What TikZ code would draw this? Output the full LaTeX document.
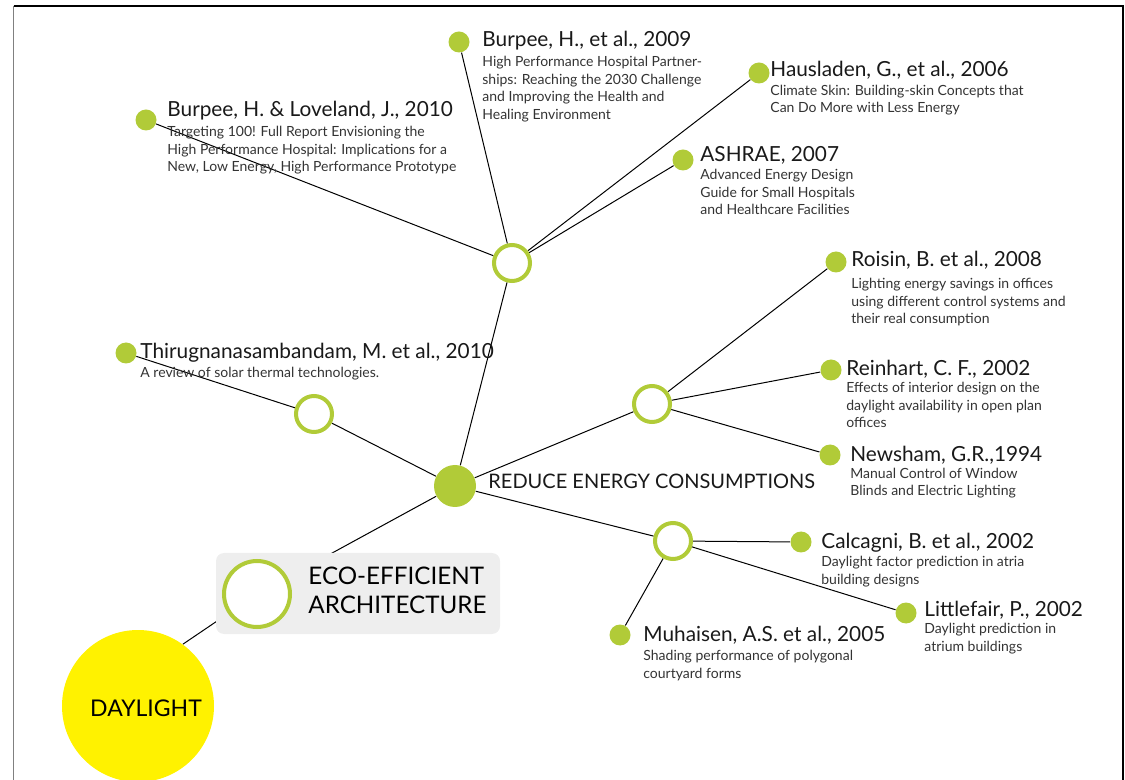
\documentclass[tikz,border=0pt]{standalone}
\usepackage{fontspec}
\setmainfont{Lato}
\usetikzlibrary{positioning,backgrounds}
\definecolor{leafgreen}{RGB}{177,203,56}
\definecolor{sunyellow}{RGB}{255,242,0}
\definecolor{panelgray}{RGB}{238,238,238}
\definecolor{subgray}{RGB}{51,51,51}

% sub texts are placed at the baseline of their last line
\tikzset{
  hub/.style={circle, draw=leafgreen, line width=2pt, fill=white, minimum size=18pt, inner sep=0pt},
  leaf/.style={circle, fill=leafgreen, minimum size=10.5pt, inner sep=0pt},
  ttl/.style={anchor=base west, inner sep=0pt, font=\fontsize{10.4}{12}\selectfont, text=black!90},
  sub/.style={anchor=base west, inner sep=0pt, align=left, font=\fontsize{7}{8.75}\selectfont, text=subgray},
  link/.style={line width=0.5pt},
}

\begin{document}
\begin{tikzpicture}[x=0.5pt, y=-0.5pt]
\useasboundingbox (0,0) rectangle (1125,780);
% frame
\draw[gray, line width=0.8pt] (13.5,780) -- (13.5,6);
\draw[line width=0.7pt] (13.5,6) -- (1123,6) -- (1123,780);

% root and eco-efficient panel
\node[circle, fill=sunyellow, minimum size=76pt, inner sep=0pt] (daylight) at (138,706) {};
\node[anchor=base, inner sep=0pt, font=\fontsize{11.5}{13}\selectfont] (daylight-t) at (146,716) {DAYLIGHT};
\node[fill=panelgray, rounded corners=4pt, minimum width=142pt, minimum height=40.5pt, inner sep=0pt] (ecobox) at (358,593.5) {};
\node[circle, draw=leafgreen, line width=2pt, fill=white, minimum size=33pt, inner sep=0pt] (eco) at (257,594) {};
\node[anchor=base west, inner sep=0pt, align=left, font=\fontsize{12.1}{14.5}\selectfont] (eco-t) at (308,613) {ECO-EFFICIENT\\ARCHITECTURE};

% main node and hubs
\node[circle, fill=leafgreen, minimum size=21pt, inner sep=0pt] (reduce) at (455,486) {};
\node[ttl, font=\fontsize{10}{12}\selectfont] (reduce-t) at (488,489) {REDUCE ENERGY CONSUMPTIONS};
\node[hub] (tophub) at (512,263) {};
\node[hub] (lefthub) at (314,414) {};
\node[hub] (righthub) at (652,404) {};
\node[hub] (bothub) at (673,541) {};

% papers on the top hub
\node[leaf] (burpeelov) at (146,120) {};
\node[ttl] at (167,117) {Burpee, H. \& Loveland, J., 2010};
\node[sub] at (167,172) {Targeting 100! Full Report Envisioning the\\High Performance Hospital: Implications for a\\New, Low Energy, High Performance Prototype};
\node[leaf] (burpee) at (459,42) {};
\node[ttl] at (482,47) {Burpee, H., et al., 2009};
\node[sub] at (482,119.5) {High Performance Hospital Partner-\\ships: Reaching the 2030 Challenge\\and Improving the Health and\\Healing Environment};
\node[leaf] (hausladen) at (759,73) {};
\node[ttl] at (770,77) {Hausladen, G., et al., 2006};
\node[sub] at (770,113) {Climate Skin: Building-skin Concepts that\\Can Do More with Less Energy};
\node[leaf] (ashrae) at (683,160) {};
\node[ttl] at (700,162) {ASHRAE, 2007};
\node[sub] at (700,215) {Advanced Energy Design\\Guide for Small Hospitals\\and Healthcare Facilities};

% paper on the left hub
\node[leaf] (thiru) at (126,353) {};
\node[ttl] at (140,359) {Thirugnanasambandam, M. et al., 2010};
\node[sub] at (140,378) {A review of solar thermal technologies.};

% papers on the right hub
\node[leaf] (roisin) at (836,262) {};
\node[ttl] at (851,267) {Roisin, B. et al., 2008};
\node[sub] at (851,324) {Lighting energy savings in offices\\using different control systems and\\their real consumption};
\node[leaf] (reinhart) at (831,370) {};
\node[ttl] at (846,376) {Reinhart, C. F., 2002};
\node[sub] at (846,428) {Effects of interior design on the\\daylight availability in open plan\\offices};
\node[leaf] (newsham) at (830,455) {};
\node[ttl] at (850,462) {Newsham, G.R.,1994};
\node[sub] at (850,496) {Manual Control of Window\\Blinds and Electric Lighting};

% papers on the bottom hub
\node[leaf] (calcagni) at (801,542) {};
\node[ttl] at (821,549) {Calcagni, B. et al., 2002};
\node[sub] at (821,584) {Daylight factor prediction in atria\\building designs};
\node[leaf] (littlefair) at (906,613) {};
\node[ttl] at (924,617) {Littlefair, P., 2002};
\node[sub] at (924,651) {Daylight prediction in\\atrium buildings};
\node[leaf] (muhaisen) at (620,635) {};
\node[ttl] at (643,641) {Muhaisen, A.S. et al., 2005};
\node[sub] at (643,678) {Shading performance of polygonal\\courtyard forms};

% connectors
\begin{scope}[on background layer]
\draw[link] (daylight.54) -- (eco);
\draw[link] (eco) -- (reduce);
\draw[link] (reduce) -- (tophub);
\draw[link] (reduce) -- (lefthub);
\draw[link] (reduce) -- (righthub);
\draw[link] (reduce) -- (bothub);
\draw[link] (tophub) -- (burpeelov);
\draw[link] (tophub) -- (burpee);
\draw[link] (tophub) -- (hausladen);
\draw[link] (tophub) -- (ashrae);
\draw[link] (lefthub) -- (thiru);
\draw[link] (righthub) -- (roisin);
\draw[link] (righthub) -- (reinhart);
\draw[link] (righthub) -- (newsham);
\draw[link] (bothub) -- (calcagni);
\draw[link] (bothub) -- (littlefair);
\draw[link] (bothub) -- (muhaisen);
\end{scope}
\end{tikzpicture}
\end{document}
